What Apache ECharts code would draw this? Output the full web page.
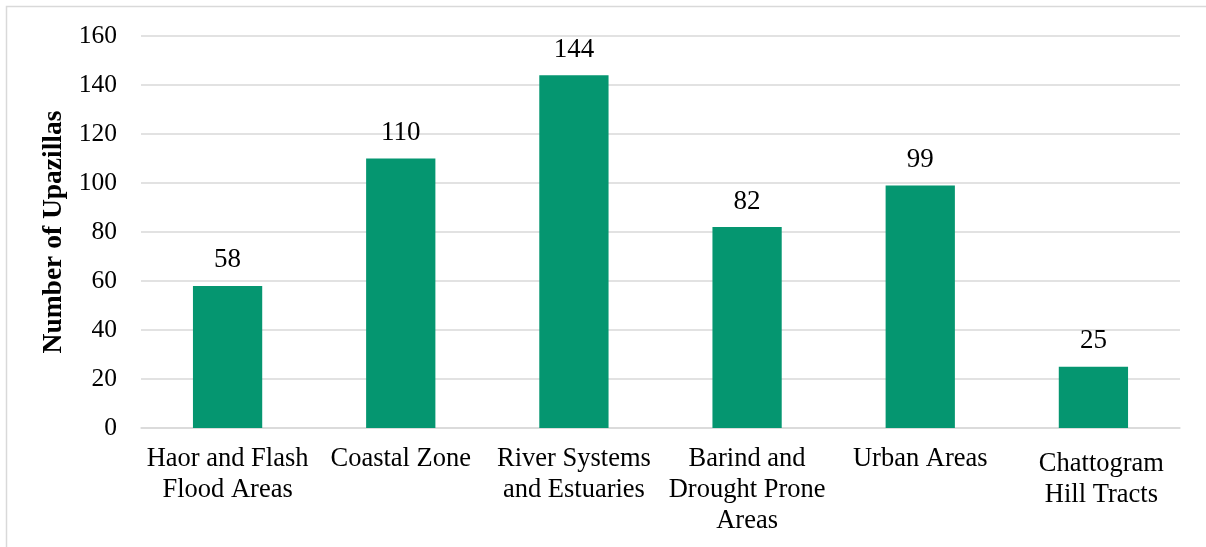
<!DOCTYPE html>
<html>
<head>
<meta charset="utf-8">
<script src="https://cdn.jsdelivr.net/npm/echarts@6/dist/echarts.min.js"></script>
<style>
  html, body { margin: 0; padding: 0; background: #ffffff; }
  #chart { width: 1206px; height: 547px; }
</style>
</head>
<body>
<div id="chart"></div>
<script>
// Upazillas per hazard zone
const categories = [
  'Haor and Flash\nFlood Areas',
  'Coastal Zone',
  'River Systems\nand Estuaries',
  'Barind and\nDrought Prone\nAreas',
  'Urban Areas',
  'Chattogram\nHill Tracts'
];
const upazillaCounts = [58, 110, 144, 82, 99, 25];
const yTicks = { min: 0, max: 160, interval: 20 };

const FONT = '"Liberation Serif", "Times New Roman", serif';
const GRID_GRAY = '#d9d9d9';
const BAR_GREEN = '#059670';

// The last category label sits a little lower and to the right
const categoryItems = categories.map((name, i) =>
  i === categories.length - 1
    ? { value: name, textStyle: { padding: [5, 0, 0, 16] } }
    : name
);

const chart = echarts.init(document.getElementById('chart'), null, { renderer: 'canvas' });

chart.setOption({
  backgroundColor: '#ffffff',
  animation: false,
  textStyle: { fontFamily: FONT },
  graphic: [{
    type: 'rect',
    shape: { x: 6.5, y: 6.5, width: 1230, height: 600 },
    style: { fill: 'none', stroke: GRID_GRAY, lineWidth: 1.5 },
    silent: true,
    z: -1
  }],
  grid: { left: 141, right: 26, top: 36, bottom: 119, containLabel: false },
  xAxis: {
    type: 'category',
    data: categoryItems,
    axisLine: { show: true, lineStyle: { color: GRID_GRAY, width: 1.5 } },
    axisTick: { show: false },
    axisLabel: {
      interval: 0,
      color: '#000000',
      fontFamily: FONT,
      fontSize: 26.5,
      lineHeight: 31,
      margin: 16
    }
  },
  yAxis: {
    type: 'value',
    min: yTicks.min,
    max: yTicks.max,
    interval: yTicks.interval,
    name: 'Number of Upazillas',
    nameLocation: 'middle',
    nameGap: 72,
    nameTextStyle: {
      color: '#000000',
      fontFamily: FONT,
      fontSize: 27.5,
      fontWeight: 'bold'
    },
    axisLine: { show: false },
    axisTick: { show: false },
    splitLine: { lineStyle: { color: GRID_GRAY, width: 1.5 } },
    axisLabel: {
      color: '#000000',
      fontFamily: FONT,
      fontSize: 25.5,
      margin: 24
    }
  },
  series: [{
    type: 'bar',
    data: upazillaCounts,
    barWidth: '40%',
    itemStyle: { color: BAR_GREEN },
    label: {
      show: true,
      position: 'top',
      distance: 12,
      color: '#000000',
      fontFamily: FONT,
      fontSize: 27
    }
  }]
});
</script>
</body>
</html>
